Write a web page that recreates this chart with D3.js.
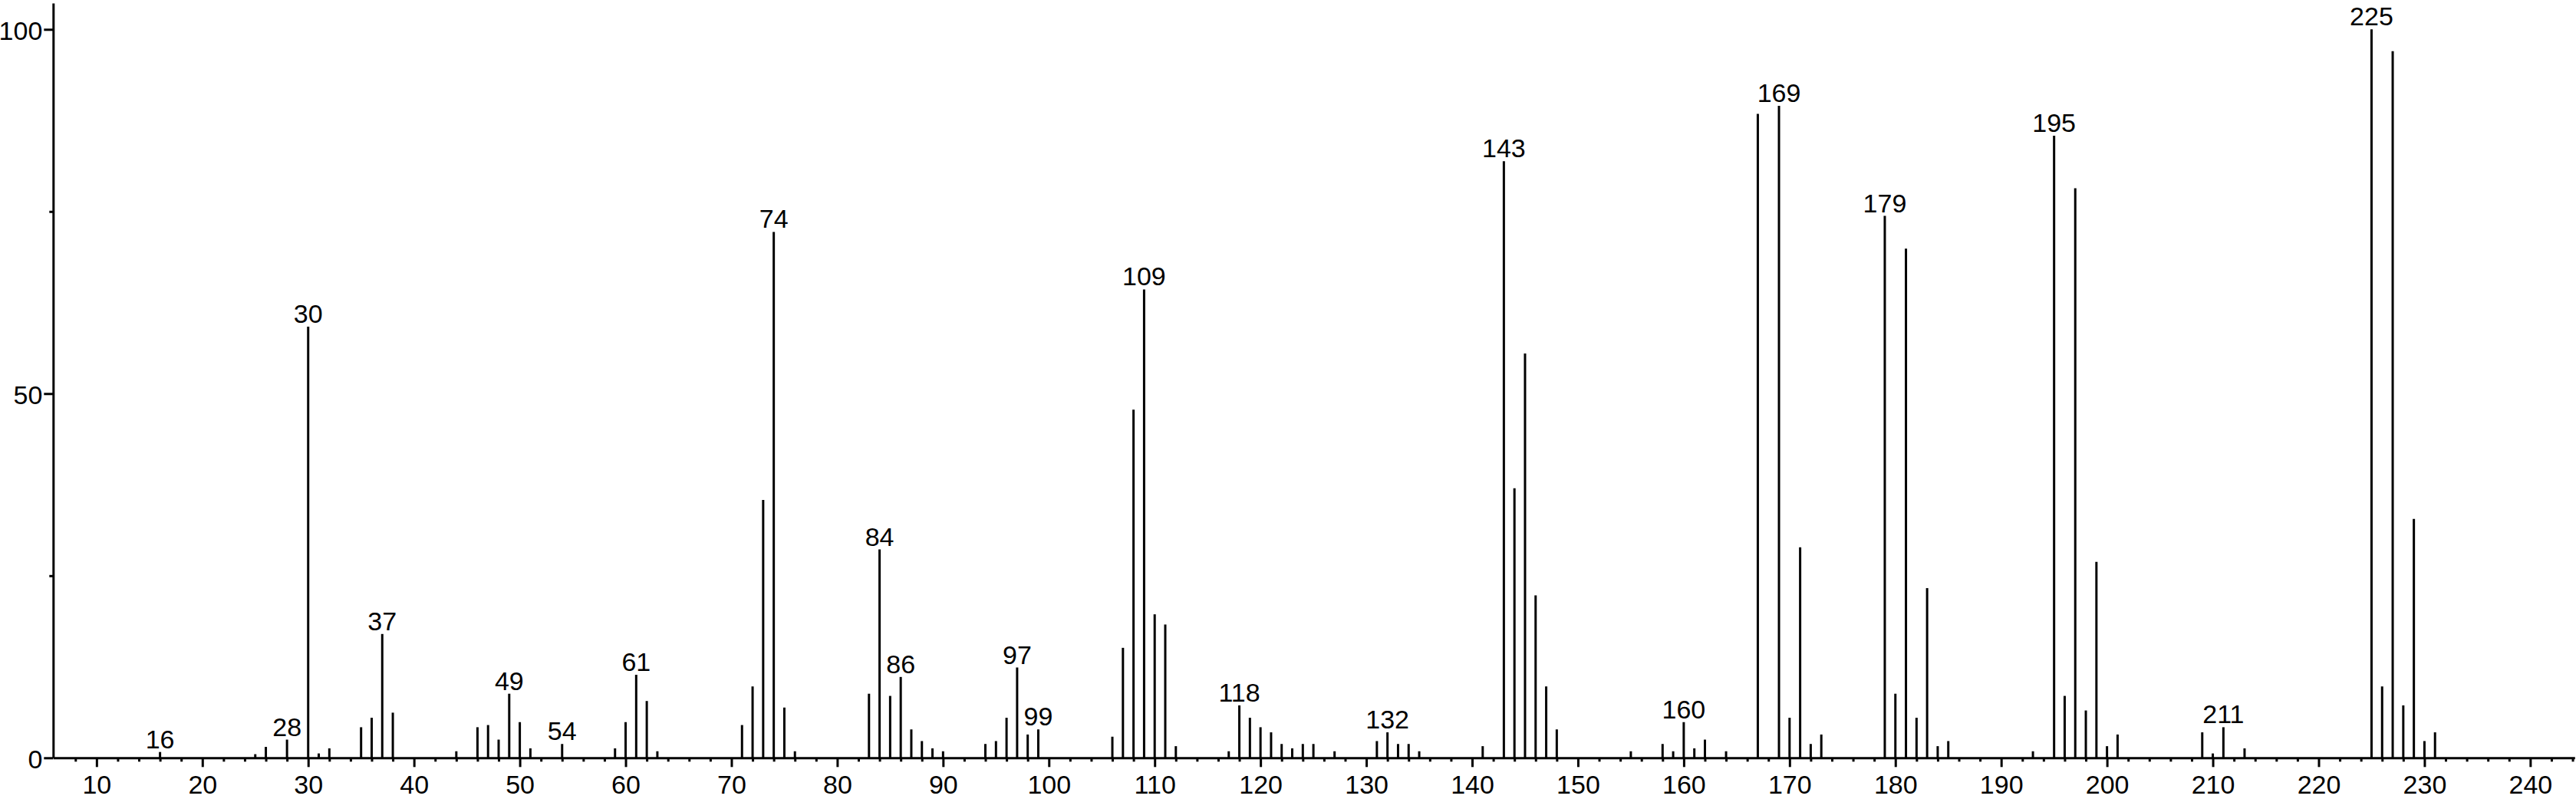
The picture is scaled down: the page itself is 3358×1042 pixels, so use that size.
<!DOCTYPE html>
<html>
<head>
<meta charset="utf-8">
<script src="https://cdn.jsdelivr.net/npm/d3@7"></script>
<style>
  html, body { margin: 0; padding: 0; background: #fff; }
  svg { display: block; }
  text { font-family: "Liberation Sans", Arial, Helvetica, sans-serif; fill: #000; }
</style>
</head>
<body>
<svg id="chart" width="3358" height="1042"></svg>
<script>
// m/z values of the peaks
const mz = [16,25,26,28,30,31,32,35,36,37,38,44,46,47,48,49,50,51,54,59,60,61,62,63,
  71,72,73,74,75,76,83,84,85,86,87,88,89,90,94,95,96,97,98,99,
  106,107,108,109,110,111,112,117,118,119,120,121,122,123,124,125,127,131,132,133,134,135,141,
  143,144,145,146,147,148,155,158,159,160,161,162,164,167,169,170,171,172,173,
  179,180,181,182,183,184,185,193,195,196,197,198,199,200,201,209,210,211,213,
  225,226,227,228,229,230,231];
// relative intensities (%)
const intensity = [0.8,0.5,1.5,2.5,59.2,0.6,1.3,4.2,5.5,17.0,6.2,0.9,4.2,4.5,2.5,8.8,4.9,1.3,1.9,1.3,4.9,11.4,7.8,0.9,
  4.5,9.8,35.4,72.2,6.9,0.9,8.8,28.6,8.5,11.1,3.9,2.3,1.3,0.9,1.9,2.3,5.5,12.4,3.2,3.9,
  2.9,15.1,47.8,64.3,19.7,18.3,1.6,0.9,7.2,5.5,4.2,3.5,1.9,1.3,1.9,1.9,0.9,2.3,3.5,1.9,1.9,0.9,1.6,
  81.9,37.0,55.5,22.3,9.8,3.9,0.9,1.9,0.9,4.9,1.3,2.5,0.9,88.4,89.5,5.5,28.9,1.9,3.2,
  74.4,8.8,69.9,5.5,23.3,1.6,2.3,0.9,85.4,8.5,78.2,6.5,26.9,1.6,3.2,3.5,0.6,4.2,1.3,
  100,9.8,97.0,7.2,32.8,2.3,3.5];
// peaks carrying an m/z label
const labeledPeaks = [16,28,30,37,49,54,61,74,84,86,97,99,109,118,132,143,160,169,179,195,211,225];
// axis ticks
const xMajorTicks = [10,20,30,40,50,60,70,80,90,100,110,120,130,140,150,160,170,180,190,200,210,220,230,240];
const xMinorTicks = [8,12,14,16,18,22,24,26,28,32,34,36,38,42,44,46,48,52,54,56,58,62,64,66,68,72,74,76,78,
  82,84,86,88,92,94,96,98,102,104,106,108,112,114,116,118,122,124,126,128,132,134,136,138,
  142,144,146,148,152,154,156,158,162,164,166,168,172,174,176,178,182,184,186,188,192,194,196,198,
  202,204,206,208,212,214,216,218,222,224,226,228,232,234,236,238,242,244];
const yMajorTicks = [0,50,100];
const yMinorTicks = [25,75];

const peaks = mz.map((m, i) => ({ mz: m, v: intensity[i] }));

const svg = d3.select("#chart");
const x = d3.scaleLinear().domain([5.9, 244.2]).range([69.3, 3356.3]);
const y = d3.scaleLinear().domain([0, 103.6]).range([988.3, 4.1]);

const FS = 34;

// peaks
svg.append("g").selectAll("line").data(peaks).join("line")
  .attr("x1", d => x(d.mz)).attr("x2", d => x(d.mz))
  .attr("y1", y(0)).attr("y2", d => y(d.v))
  .attr("stroke", "#000").attr("stroke-width", 3);

// peak labels
svg.append("g").selectAll("text").data(peaks.filter(d => labeledPeaks.includes(d.mz))).join("text")
  .attr("x", d => x(d.mz)).attr("y", d => y(d.v) - 5)
  .attr("text-anchor", "middle")
  .style("font-size", FS + "px")
  .text(d => d.mz);

// x axis
const gx = svg.append("g").attr("transform", `translate(0,${y(0)})`);
gx.call(d3.axisBottom(x).tickValues(xMajorTicks).tickSize(12).tickSizeOuter(0).tickPadding(11)
  .tickFormat(d3.format("d")));
gx.append("g").call(d3.axisBottom(x).tickValues(xMinorTicks).tickSize(5).tickSizeOuter(0).tickFormat(""))
  .select(".domain").remove();

// y axis
const gy = svg.append("g").attr("transform", `translate(${x(5.9)},0)`);
gy.call(d3.axisLeft(y).tickValues(yMajorTicks).tickSize(12).tickSizeOuter(0).tickPadding(2)
  .tickFormat(d3.format("d")));
gy.append("g").call(d3.axisLeft(y).tickValues(yMinorTicks).tickSize(5).tickSizeOuter(0).tickFormat(""))
  .select(".domain").remove();

svg.selectAll(".domain, .tick line").attr("stroke", "#000").attr("stroke-width", 3);
svg.selectAll(".tick text").style("font-size", FS + "px")
  .style("font-family", '"Liberation Sans", Arial, sans-serif').attr("fill", "#000");
gy.selectAll(".tick text").attr("dy", "0.38em");
</script>
</body>
</html>
